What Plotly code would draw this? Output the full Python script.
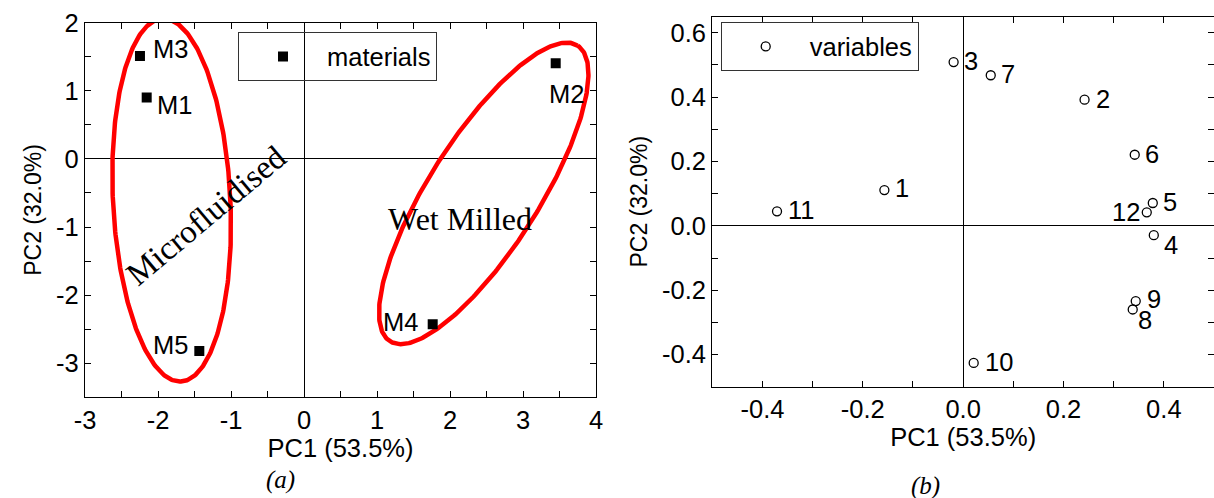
import numpy as np
import plotly.graph_objects as go

# ---------------- data ----------------
# Panel (a): scores of materials
mat_names = ["M1", "M2", "M3", "M4", "M5"]
mat_pc1 = [-2.155, 3.448, -2.247, 1.763, -1.434]
mat_pc2 = [0.901, 1.405, 1.512, -2.428, -2.819]

# Panel (b): loadings of variables
var_names = ["1", "2", "3", "4", "5", "6", "7", "8", "9", "10", "11", "12"]
var_pc1 = [-0.157, 0.242, -0.019, 0.380, 0.378, 0.342, 0.055, 0.338, 0.344, 0.021, -0.371, 0.366]
var_pc2 = [0.111, 0.392, 0.509, -0.029, 0.071, 0.221, 0.468, -0.260, -0.234, -0.426, 0.045, 0.042]

# Groups (ellipses) in panel (a)
group_names = ["Microfluidised", "Wet Milled"]
group_cx = [-1.813, 2.462]
group_cy = [-0.604, -0.506]

# tick values
a_xticks = [-3, -2, -1, 0, 1, 2, 3, 4]
a_yticks = [-3, -2, -1, 0, 1, 2]
b_xticks = [-0.4, -0.2, 0.0, 0.2, 0.4]
b_yticks = [-0.4, -0.2, 0.0, 0.2, 0.4, 0.6]

# ---------------- layout geometry / styles ----------------
W, H = 1214, 498
A_XR, A_YR = [-3, 4], [-3.5, 2]
B_XR, B_YR = [-0.5, 0.5], [-0.5, 0.65]
A_XD = [85 / W, 596 / W]
A_YD = [1 - 397.3 / H, 1 - 22.7 / H]
B_XD = [712.3 / W, 1.0]
B_YD = [1 - 386.7 / H, 1 - 16.7 / H]

# ellipse shape: semi-axes (px), major-axis angle (deg)
ell_a = [181.7, 175.1]
ell_b = [58.7, 55.1]
ell_ang = [92.9, 57.6]

# label offsets (px)
mat_lab = {  # xanchor, xshift, yshift
    "M1": ("left", 8.5, -7),
    "M2": ("center", 11, -31),
    "M3": ("left", 11, 7),
    "M4": ("right", -13, 2.5),
    "M5": ("right", -9, 6),
}
var_lab = {
    "1": ("left", 9, 2), "2": ("left", 9, 1), "3": ("left", 8.5, 1),
    "4": ("left", 8, -10), "5": ("left", 8.5, 1), "6": ("left", 8.5, 0.5),
    "7": ("left", 8, 1), "8": ("left", 3.5, -10.5), "9": ("left", 9, 2),
    "10": ("left", 9, 1), "11": ("left", 9, 1.5), "12": ("right", -5, 0),
}

SANS = "Liberation Sans, Arial, sans-serif"
SERIF = "Liberation Serif, Times New Roman, serif"
FS = 25.5


def fmt_tick(v, nd):
    return f"{v:.{nd}f}"  # plain hyphen-minus, as in the original


fig = go.Figure()

# ellipses
px_x = (A_XD[1] - A_XD[0]) * W / (A_XR[1] - A_XR[0])
px_y = (A_YD[1] - A_YD[0]) * H / (A_YR[1] - A_YR[0])
t = np.linspace(0, 2 * np.pi, 361)
for cx, cy, a, b, ang in zip(group_cx, group_cy, ell_a, ell_b, ell_ang):
    ph = np.deg2rad(ang)
    dx = a * np.cos(t) * np.cos(ph) - b * np.sin(t) * np.sin(ph)
    dy = a * np.cos(t) * np.sin(ph) + b * np.sin(t) * np.cos(ph)
    fig.add_trace(go.Scatter(
        x=cx + dx / px_x, y=cy + dy / px_y, mode="lines",
        line=dict(color="#ff0000", width=4.5), showlegend=False,
        hoverinfo="skip", xaxis="x", yaxis="y"))

fig.add_trace(go.Scatter(
    x=mat_pc1, y=mat_pc2, mode="markers", name="materials",
    marker=dict(symbol="square", size=10, color="black"),
    text=mat_names, xaxis="x", yaxis="y", legend="legend"))

fig.add_trace(go.Scatter(
    x=var_pc1, y=var_pc2, mode="markers", name="variables",
    marker=dict(symbol="circle-open", size=9, color="black", line=dict(width=1.3)),
    text=var_names, xaxis="x2", yaxis="y2", legend="legend2"))

ann = []
for n, x, y in zip(mat_names, mat_pc1, mat_pc2):
    xa, xs, ys = mat_lab[n]
    ann.append(dict(x=x, y=y, xref="x", yref="y", text=n, showarrow=False,
                    xanchor=xa, yanchor="middle", xshift=xs, yshift=ys,
                    font=dict(family=SANS, size=FS, color="black")))
for n, x, y in zip(var_names, var_pc1, var_pc2):
    xa, xs, ys = var_lab[n]
    ann.append(dict(x=x, y=y, xref="x2", yref="y2", text=n, showarrow=False,
                    xanchor=xa, yanchor="middle", xshift=xs, yshift=ys,
                    font=dict(family=SANS, size=FS, color="black")))

# group names
ann.append(dict(x=-1.33, y=-0.83, xref="x", yref="y", text=group_names[0],
                showarrow=False, textangle=-40, xanchor="center", yanchor="middle",
                font=dict(family=SERIF, size=33, color="black")))
ann.append(dict(x=2.141, y=-0.883, xref="x", yref="y", text=group_names[1],
                showarrow=False, xanchor="center", yanchor="middle",
                font=dict(family=SERIF, size=32, color="black")))

# panel captions
ann.append(dict(x=280 / W, y=1 - 480 / H, xref="paper", yref="paper", text="<i>(a)</i>",
                showarrow=False, xanchor="center", yanchor="middle",
                font=dict(family=SERIF, size=25, color="black")))
ann.append(dict(x=925 / W, y=1 - 486 / H, xref="paper", yref="paper", text="<i>(b)</i>",
                showarrow=False, xanchor="center", yanchor="middle",
                font=dict(family=SERIF, size=25, color="black")))


def axis(domain, rng, ticks, nd, minor, anchor, title, standoff, title_size=FS):
    return dict(
        domain=domain, range=rng, anchor=anchor,
        tickmode="array", tickvals=ticks, ticktext=[fmt_tick(v, nd) for v in ticks],
        ticks="inside", ticklen=6, tickwidth=1.2, tickcolor="black",
        minor=dict(dtick=minor, ticks="inside", ticklen=6, tickwidth=1.2, tickcolor="black"),
        showline=True, linecolor="black", linewidth=1.3, mirror="allticks",
        showgrid=False, zeroline=True, zerolinecolor="black", zerolinewidth=1.2,
        tickfont=dict(family=SANS, size=FS, color="black"),
        title=dict(text=title, font=dict(family=SANS, size=title_size, color="black"),
                   standoff=standoff),
        automargin=False, fixedrange=True,
    )


fig.update_layout(
    width=W, height=H,
    margin=dict(l=0, r=0, t=0, b=0),
    paper_bgcolor="white", plot_bgcolor="white",
    xaxis=axis(A_XD, A_XR, a_xticks, 0, 0.5, "y", "PC1 (53.5%)", 5),
    yaxis=axis(A_YD, A_YR, a_yticks, 0, 0.5, "x", "PC2 (32.0%)", 8, 23),
    xaxis2=axis(B_XD, B_XR, b_xticks, 1, 0.1, "y2", "PC1 (53.5%)", 5),
    yaxis2=axis(B_YD, B_YR, b_yticks, 1, 0.1, "x2", "PC2 (32.0%)", 8, 23),
    legend=dict(x=238 / W, y=1 - 32.3 / H, xanchor="left", yanchor="top",
                bgcolor="rgba(0,0,0,0)", bordercolor="#333", borderwidth=1,
                itemwidth=78, font=dict(family=SANS, size=FS, color="black")),
    legend2=dict(x=720.7 / W, y=1 - 22.3 / H, xanchor="left", yanchor="top",
                 bgcolor="rgba(0,0,0,0)", bordercolor="#333", borderwidth=1,
                 itemwidth=78, font=dict(family=SANS, size=FS, color="black")),
    annotations=ann,
    showlegend=True,
)

fig.write_html("out.html")
